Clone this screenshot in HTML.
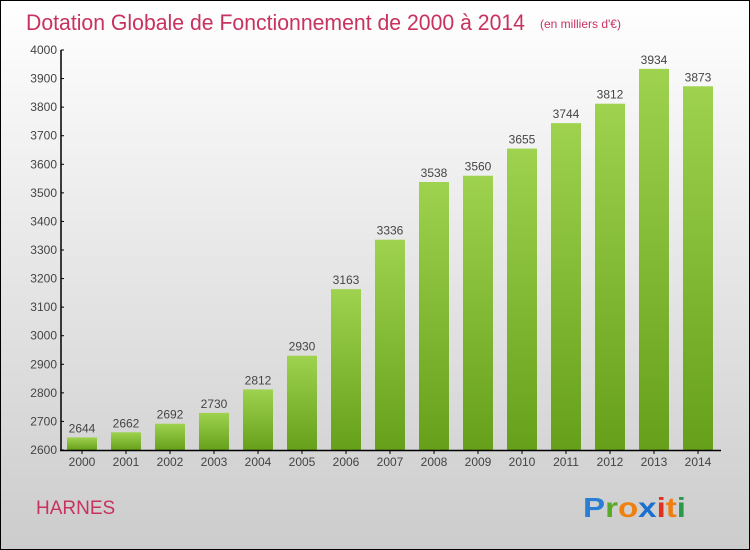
<!DOCTYPE html>
<html><head><meta charset="utf-8"><style>
body{margin:0}
svg{display:block;font-family:"Liberation Sans",sans-serif}
</style></head><body>
<svg width="750" height="550">
<defs>
<linearGradient id="bg" x1="0" y1="0" x2="0" y2="1"><stop offset="0" stop-color="#ffffff"/><stop offset="1" stop-color="#cccccc"/></linearGradient>
<linearGradient id="bar" x1="0" y1="0" x2="0" y2="1"><stop offset="0" stop-color="#9ed24f"/><stop offset="1" stop-color="#66a01a"/></linearGradient>
</defs>
<rect x="0.5" y="0.5" width="749" height="549" fill="url(#bg)" stroke="#000"/>
<text x="26" y="30" font-size="22" fill="#c8325f" textLength="499" lengthAdjust="spacingAndGlyphs">Dotation Globale de Fonctionnement de 2000 à 2014</text>
<text x="540" y="28" font-size="12" fill="#c8325f">(en milliers d'€)</text>
<g id="plot"></g>
<text x="36" y="514" font-size="19" fill="#c8325f">HARNES</text>
<text x="583" y="517" font-size="28" font-weight="bold" textLength="103" lengthAdjust="spacingAndGlyphs"><tspan fill="#2a7fd4">P</tspan><tspan fill="#5aaa2a">r</tspan><tspan fill="#f07f10">o</tspan><tspan fill="#1a6fd0">x</tspan><tspan fill="#e03020">i</tspan><tspan fill="#f07f10">t</tspan><tspan fill="#2a9a4a">i</tspan></text>
</svg>
<script>
const years=[2000,2001,2002,2003,2004,2005,2006,2007,2008,2009,2010,2011,2012,2013,2014];
const values=[2644,2662,2692,2730,2812,2930,3163,3336,3538,3560,3655,3744,3812,3934,3873];
const yTicks=[2600,2700,2800,2900,3000,3100,3200,3300,3400,3500,3600,3700,3800,3900,4000];
const NS="http://www.w3.org/2000/svg";
const g=document.getElementById('plot');
const y=v=>450-(v-2600)/1400*400;
const x=i=>82+i*44;
function mk(t,a,txt){const e=document.createElementNS(NS,t);for(const k in a)e.setAttribute(k,a[k]);if(txt!=null)e.textContent=txt;g.appendChild(e);return e;}
values.forEach((v,i)=>{
 const r=mk('rect',{x:x(i)-15,y:y(v),width:30,height:450-y(v),fill:'url(#bar)'});
 
 
 const l=mk('text',{x:x(i),y:y(v)-5,'font-size':12,'text-anchor':'middle',fill:'#444'},v);
 
 
 const t=mk('text',{x:x(i),y:466,'font-size':12,'text-anchor':'middle',fill:'#444'},years[i]);
 
 
 const tk=mk('line',{x1:x(i),x2:x(i),y1:450,y2:454,stroke:'#000'});
 
 
});
yTicks.forEach(v=>{
 const t=mk('text',{x:57,y:y(v)+4,'font-size':12,'text-anchor':'end',fill:'#444'},v);
 
 
 const tk=mk('line',{x1:61,x2:64,y1:y(v),y2:y(v),stroke:'#000'});
 
 
});
const ya=mk('line',{x1:61,x2:61,y1:50,y2:451,stroke:'#000','stroke-width':1.5});


const xa=mk('line',{x1:60,x2:721,y1:450.5,y2:450.5,stroke:'#000','stroke-width':1.5});


</script>
</body></html>
